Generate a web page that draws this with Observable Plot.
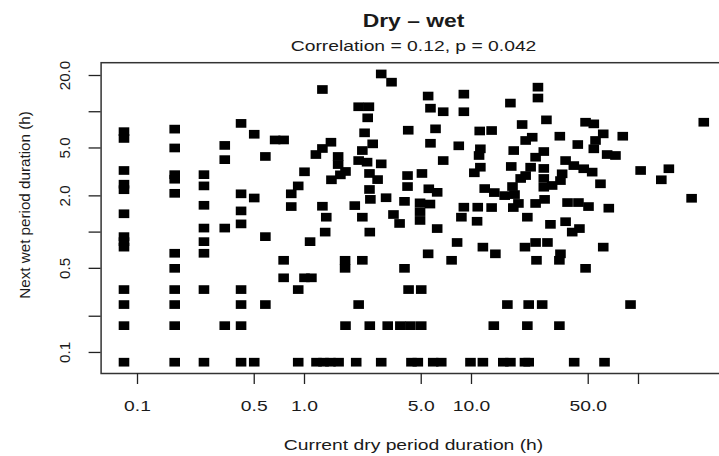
<!DOCTYPE html>
<html><head><meta charset="utf-8">
<script src="https://cdn.jsdelivr.net/npm/d3@7"></script>
<script src="https://cdn.jsdelivr.net/npm/@observablehq/plot@0.6"></script>
<style>
html,body{margin:0;padding:0;background:#fff;}
#chart{width:719px;height:456px;overflow:hidden;position:relative;}
#chart svg{max-width:none !important;}
</style></head><body><div id="chart"></div>
<script>
// Current dry period duration (h)
const dryDuration = [
  0.083,0.083,0.083,0.083,0.083,0.083,0.083,0.083,0.083,0.083,0.083,0.083,0.083,
  0.167,0.167,0.167,0.167,0.167,0.167,0.167,0.167,0.167,0.167,0.167,
  0.25,0.25,0.25,0.25,0.25,0.25,0.25,0.25,
  0.333,0.333,0.333,0.333,
  0.417,0.417,0.417,0.417,0.417,0.417,0.417,0.417,
  0.5,0.5,0.5,0.583,0.583,0.583,0.667,
  0.75,0.75,0.75,0.917,0.833,0.833,0.917,0.917,1.0,1.0,1.1,1.08,
  2.88,3.32,1.28,5.5,9.0,2.11,2.43,2.39,5.68,6.77,9.0,
  1.44,1.28,1.17,2.29,2.56,2.22,2.11,2.37,1.59,1.59,1.76,1.64,1.45,2.88,
  2.45,2.74,2.45,2.48,1.28,1.35,2.0,2.22,3.08,3.97,
  4.14,4.14,5.05,5.55,6.23,4.92,5.64,4.92,4.92,
  6.77,5.68,8.39,4.18,6.09,11.2,13.2,11.3,11.1,11.3,10.4,
  9.0,8.7,3.41,3.71,1.33,2.46,6.23,8.2,
  1.75,1.75,2.22,5.5,7.6,3.97,4.2,5.0,2.11,
  1.76,2.46,3.15,3.75,4.31,5.0,
  1.18,1.3,1.43,1.6,2.04,2.88,4.37,4.77,5.9,6.59,9.86,11.7,15.5,17.1,20.9,22.0,41.2,62.6,
  25,25,17.1,28.1,20.1,246,48.2,54,61.5,55.3,54,80.5,33.8,
  43.3,17.9,21.1,23.1,27.1,24.2,72.8,64.9,17.3,22.6,21.1,19.7,27.1,
  27.1,36.6,41,34.9,34.1,47,52.8,59.2,103,152,137,208,66.4,
  12,13.7,15.8,17.6,18.1,27.1,30.4,
  10.9,13.2,17.8,19.1,24.2,27.4,37.6,43.7,50.2,
  21.6,10.8,29.7,36.6,40.1,44.3,
  11.7,13.9,20.9,24.2,28.5,24.5,34.1,33.6,61.5,48.2,
  16.4,22,26.5,89.6,13.6,21.6,33.6
];
// Next wet period duration (h)
const wetDuration = [
  6.83,6.0,3.25,2.5,2.25,1.42,0.917,0.833,0.75,0.333,0.25,0.167,0.083,
  7.17,5.0,3.0,2.75,2.1,0.667,0.5,0.333,0.25,0.167,0.083,
  3.0,2.42,1.67,1.08,0.833,0.667,0.333,0.083,
  5.25,4.0,1.08,0.167,
  8.0,2.08,1.5,1.17,0.333,0.25,0.167,0.083,
  6.5,1.92,0.083,4.25,0.917,0.25,5.83,
  5.83,0.583,0.417,2.42,2.08,1.63,0.333,0.083,3.17,0.417,0.417,0.833,
  20.6,17.6,15.3,13.5,14.0,11.0,11.0,8.9,10.7,10.0,10.0,
  5.58,4.95,4.41,6.68,5.41,4.76,3.93,3.81,4.25,3.64,3.19,2.99,2.72,3.69,
  3.07,2.73,2.26,1.87,1.64,1.33,1.66,1.33,1.93,1.8,
  2.95,2.39,3.07,2.29,2.14,1.75,1.71,1.48,1.25,
  3.93,5.47,5.21,7.02,7.21,6.92,6.98,4.92,4.33,3.46,3.11,
  1.61,1.33,1.4,1.18,1.0,1.0,1.07,0.82,
  0.583,0.5,0.583,0.66,0.583,0.5,0.333,0.333,0.25,
  0.167,0.167,0.167,0.167,0.167,0.167,
  0.083,0.083,0.083,0.083,0.083,0.083,0.083,0.083,0.083,0.083,0.083,0.083,0.083,0.083,0.083,0.083,0.083,0.083,
  16,13,11.8,8.56,7.83,8.18,8.18,7.93,6.55,5.77,4.92,6.26,6.26,
  5.34,4.76,5.77,6.14,4.67,4.19,4.33,4.41,3.51,3.46,2.95,2.79,3.38,
  2.79,3.93,3.57,3.05,2.68,3.36,3.15,2.52,3.25,3.36,2.72,1.91,1.58,
  2.3,2.13,2.01,2.39,2.05,2.36,2.44,
  1.61,1.6,1.6,1.73,1.73,1.87,1.76,1.76,1.63,
  1.33,1.23,1.16,1.22,1.0,1.07,
  0.75,0.66,0.75,0.82,0.82,0.583,0.66,0.583,0.75,0.5,
  0.25,0.25,0.25,0.25,0.167,0.167,0.167
];
const xTicks = [0.1, 0.5, 1, 5, 10, 50, 100];
const xTickLabels = ["0.1", "0.5", "1.0", "5.0", "10.0", "50.0", ""];
const yTicks = [0.1, 0.2, 0.5, 1, 2, 5, 10, 20];
const yTickLabels = ["0.1", "", "0.5", "", "2.0", "5.0", "", "20.0"];
const chartTitle = "Dry – wet";
const chartSubtitle = "Correlation = 0.12, p = 0.042";
const xTitle = "Current dry period duration (h)";
const yTitle = "Next wet period duration (h)";

const points = dryDuration.map((d, i) => ({dry: d, wet: wetDuration[i]}));
const xLabelData = xTicks.map((v, i) => ({v, label: xTickLabels[i]})).filter(d => d.label);
const yLabelData = yTicks.map((v, i) => ({v, label: yTickLabels[i]})).filter(d => d.label);
const rectSymbol = {draw(ctx) { ctx.rect(-5.3, -4.35, 10.6, 8.7); }};
const FONT = "'Liberation Sans', Arial, Helvetica, sans-serif";

const W = 727, H = 456;
const plot = Plot.plot({
  width: W, height: H,
  marginLeft: 100.6, marginRight: 0.5, marginTop: 62.2, marginBottom: 83,
  style: {fontFamily: FONT, fontSize: "15.2px", background: "white", color: "#1a1a1a", overflow: "hidden"},
  x: {type: "log", domain: [Math.pow(10, -1.218), Math.pow(10, 2.53)]},
  y: {type: "log", domain: [Math.pow(10, -1.1748), Math.pow(10, 1.4074)]},
  marks: [
    Plot.dot(points, {x: "dry", y: "wet", symbol: rectSymbol, r: 5, fill: "#000", stroke: "none"}),
    Plot.frame({stroke: "#333", strokeWidth: 1.5}),
    Plot.axisX({ticks: xTicks, tickFormat: () => "", tickSize: 11, label: null, stroke: "#222", strokeWidth: 1.3}),
    Plot.axisY({ticks: yTicks, tickFormat: () => "", tickSize: 12, label: null, stroke: "#222", strokeWidth: 1.3}),
    Plot.text(xLabelData, {x: "v", text: "label", frameAnchor: "bottom", lineAnchor: "top", dy: 27,
      fill: "#1a1a1a", fontSize: 15.2, className: "xlab"}),
    Plot.text(yLabelData, {y: "v", text: "label", frameAnchor: "left", rotate: -90, textAnchor: "middle",
      lineAnchor: "bottom", dx: -31, fill: "#1a1a1a", fontSize: 15.2})
  ]
});
document.getElementById("chart").appendChild(plot);

const svg = d3.select(plot);
const cx = (100.6 + 726.5) / 2;
const STRETCH = 1.27;
const titles = svg.append("g").attr("font-family", FONT).attr("fill", "#1a1a1a");
const tTitle = titles.append("text").attr("x", cx).attr("y", 27).attr("text-anchor", "middle")
  .attr("font-size", 18).attr("font-weight", "bold").text(chartTitle);
const tSub = titles.append("text").attr("x", cx).attr("y", 51).attr("text-anchor", "middle")
  .attr("font-size", 15.2).text(chartSubtitle);
const tX = titles.append("text").attr("x", cx).attr("y", 450).attr("text-anchor", "middle")
  .attr("font-size", 15.2).text(xTitle);
titles.append("text").attr("transform", "translate(30,205) rotate(-90)").attr("text-anchor", "middle")
  .attr("font-size", 15.2).text(yTitle);

function stretch(el) {
  const len = el.getComputedTextLength();
  if (len > 0) {
    el.setAttribute("textLength", (len * STRETCH).toFixed(1));
    el.setAttribute("lengthAdjust", "spacingAndGlyphs");
  }
}
[tTitle.node(), tSub.node(), tX.node()].forEach(stretch);
plot.querySelectorAll('.xlab text').forEach(stretch);
</script></body></html>
